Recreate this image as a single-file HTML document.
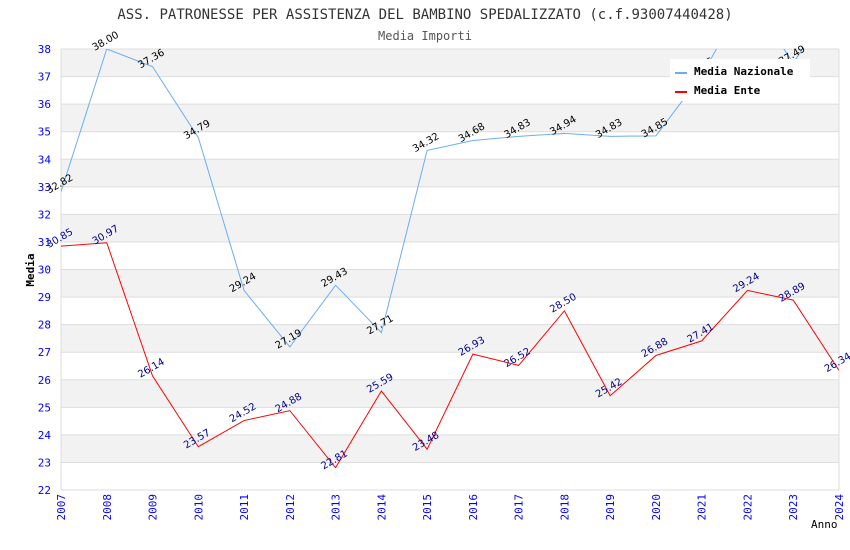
<!DOCTYPE html>
<html><head><meta charset="utf-8"><style>
body{margin:0;background:#fff;}
svg{display:block;font-family:"DejaVu Sans Mono","Liberation Mono",monospace;}
</style></head><body>
<svg id="c" width="850" height="550">
<defs><clipPath id="clip"><rect x="61" y="49" width="778" height="441"/></clipPath></defs>
<text x="425" y="19" text-anchor="middle" font-size="14" fill="#333">ASS. PATRONESSE PER ASSISTENZA DEL BAMBINO SPEDALIZZATO (c.f.93007440428)</text>
<text x="425" y="40" text-anchor="middle" font-size="12" fill="#555">Media Importi</text>
<text x="34" y="270" text-anchor="middle" font-size="11" font-weight="bold" fill="#000" transform="rotate(-90 34 270)">Media</text>
<text x="811" y="528" font-size="11" fill="#000">Anno</text>
<g id="grid"></g><g id="lines" clip-path="url(#clip)"></g><g id="labels"></g>
<g>
<rect x="670" y="59" width="140" height="42" fill="#fff"/>
<rect x="675" y="72" width="12" height="2" fill="#6aaef0"/>
<text x="694" y="75" font-size="11" font-weight="bold">Media Nazionale</text>
<rect x="675" y="91" width="12" height="2" fill="#f00"/>
<text x="694" y="94" font-size="11" font-weight="bold">Media Ente</text>
</g>
</svg>
<script>
const years=[2007,2008,2009,2010,2011,2012,2013,2014,2015,2016,2017,2018,2019,2020,2021,2022,2023,2024];
const nazionale=[32.82,38.00,37.36,34.79,29.24,27.19,29.43,27.71,34.32,34.68,34.83,34.94,34.83,34.85,37.05,40.0,37.49,40.0];
const ente=[30.85,30.97,26.14,23.57,24.52,24.88,22.81,25.59,23.48,26.93,26.52,28.50,25.42,26.88,27.41,29.24,28.89,26.34];
const yTicks=[22,23,24,25,26,27,28,29,30,31,32,33,34,35,36,37,38];
const NS="http://www.w3.org/2000/svg";
const x0=61,x1=839,y0=490,y1=49,ymin=22,ymax=38;
const X=i=>x0+(x1-x0)*i/(years.length-1);
const Y=v=>y0-(v-ymin)/(ymax-ymin)*(y0-y1);
function mk(t,a,p){const e=document.createElementNS(NS,t);for(const k in a)e.setAttribute(k,a[k]);p.appendChild(e);return e;}
const g=document.getElementById('grid');
for(let i=0;i<yTicks.length-1;i++){
 const r=mk('rect',{x:x0,y:Y(yTicks[i+1]),width:x1-x0,height:Y(yTicks[i])-Y(yTicks[i+1]),fill:(i%2==1)?'#f2f2f2':'#fff'},g);
 
 
}
yTicks.forEach(t=>{
 const l=mk('line',{x1:x0,x2:x1,y1:Y(t),y2:Y(t),stroke:'#ddd'},g);
 
 
 const tx=mk('text',{x:x0-10,y:Y(t)+4,'text-anchor':'end','font-size':11,fill:'#00f'},g);
 tx.textContent=t;
 
 
});
mk('line',{x1:x1,x2:x1,y1:y1,y2:y0,stroke:'#ddd'},g);
mk('line',{x1:x0,x2:x0,y1:y1,y2:y0,stroke:'#ddd'},g);
years.forEach((yr,i)=>{
 const tx=mk('text',{x:X(i)+4,y:y0+4,'text-anchor':'end','font-size':11,fill:'#00f',transform:`rotate(-90 ${X(i)+4} ${y0+4})`},g);
 tx.textContent=yr;
 
 
});
const L=document.getElementById('lines'),LB=document.getElementById('labels');
function series(vals,color,lc,name){
 const p=mk('polyline',{points:vals.map((v,i)=>X(i)+','+Y(v)).join(' '),fill:'none',stroke:color,'stroke-width':1},L);
 
 
 vals.forEach((v,i)=>{
  if(v>ymax)return;
  const yy=Y(v);
  const tx=mk('text',{x:X(i)-14,y:yy-5,'font-size':10,'font-family':'DejaVu Sans, Liberation Sans, sans-serif',fill:lc,transform:`rotate(-30 ${X(i)} ${yy-5})`},LB);
  tx.textContent=v.toFixed(2);
  
  
 });
}
series(nazionale,'#6aaef0','#000','nazionale');
series(ente,'#f00','#00008b','ente');
</script>
</body></html>
